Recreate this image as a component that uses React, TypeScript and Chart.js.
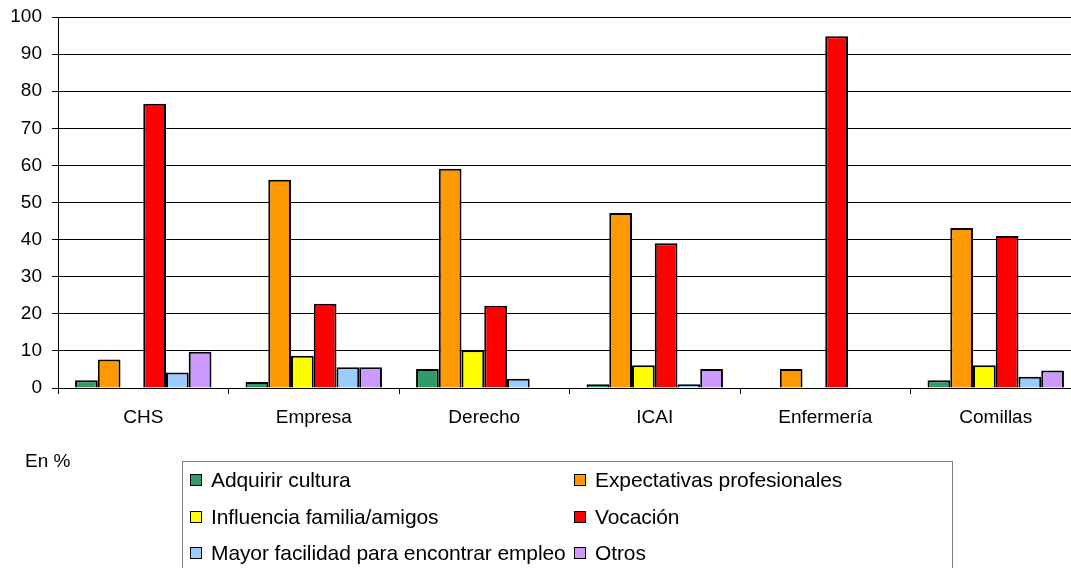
import React, { useEffect, useRef } from "react";
import { Chart, registerables } from "chart.js";

Chart.register(...registerables);

const categories = ["CHS", "Empresa", "Derecho", "ICAI", "Enfermería", "Comillas"];
const seriesNames = [
  "Adquirir cultura",
  "Expectativas profesionales",
  "Influencia familia/amigos",
  "Vocación",
  "Mayor facilidad para encontrar empleo",
  "Otros",
];
const adquirirCultura = [2.1, 1.6, 5.1, 1.0, 0, 2.1];
const expectativas = [7.7, 56.1, 59.1, 47.2, 5.1, 43.1];
const influencia = [0, 8.7, 10.2, 6.1, 0, 6.1];
const vocacion = [76.6, 22.7, 22.2, 39.0, 94.8, 41.0];
const facilidadEmpleo = [4.2, 5.6, 2.5, 1.0, 0, 3.0];
const otros = [9.8, 5.6, 0, 5.1, 0, 4.7];
const seriesValues = [adquirirCultura, expectativas, influencia, vocacion, facilidadEmpleo, otros];
const seriesColors = ["#339966", "#FF9900", "#FFFF00", "#FF0000", "#99CCFF", "#CC99FF"];
const yTicks = [0, 10, 20, 30, 40, 50, 60, 70, 80, 90, 100];

const FONT = "'Liberation Sans', Arial, sans-serif";

export default function App() {
  const canvasRef = useRef<HTMLCanvasElement | null>(null);

  useEffect(() => {
    document.documentElement.style.overflow = "hidden";
    document.body.style.overflow = "hidden";
    const ctx = canvasRef.current!.getContext("2d")!;
    const chart = new Chart(ctx, {
      type: "bar",
      data: {
        labels: categories,
        datasets: seriesNames.map((name, i) => ({
          label: name,
          data: seriesValues[i],
          backgroundColor: seriesColors[i],
          borderColor: "#000000",
          borderWidth: 2,
          borderSkipped: "start" as const,
          categoryPercentage: 0.8,
          barPercentage: 1.0,
        })),
      },
      options: {
        animation: false,
        responsive: false,
        maintainAspectRatio: false,
        layout: { padding: { top: 17, left: 0, right: 9, bottom: 0 } },
        plugins: {
          legend: { display: false },
          tooltip: { enabled: false },
        },
        scales: {
          x: {
            grid: {
              display: true,
              drawOnChartArea: false,
              drawTicks: true,
              tickLength: 6,
              color: "#000000",
              offset: true,
            },
            border: { display: true, color: "#000000", width: 1 },
            ticks: {
              color: "#000000",
              font: { family: FONT, size: 19 },
              padding: 12,
              maxRotation: 0,
              autoSkip: false,
            },
            afterFit: (scale: any) => {
              scale.height = 180;
              scale.paddingLeft = 0;
              scale.paddingRight = 0;
            },
          },
          y: {
            min: 0,
            max: 100,
            afterBuildTicks: (scale: any) => {
              scale.ticks = yTicks.map((v) => ({ value: v }));
            },
            grid: {
              color: "#000000",
              lineWidth: 1,
              tickLength: 6,
              tickColor: "#000000",
            },
            border: { display: true, color: "#000000", width: 1 },
            ticks: {
              color: "#000000",
              font: { family: FONT, size: 19 },
              padding: 10,
            },
            afterFit: (scale: any) => {
              scale.width = 58;
              scale.paddingTop = 0;
              scale.paddingBottom = 0;
            },
          },
        },
      },
    });
    return () => chart.destroy();
  }, []);

  const rows = [
    [0, 1],
    [2, 3],
    [4, 5],
  ];

  return (
    <div
      style={{
        position: "fixed",
        left: 0,
        top: 0,
        width: 1090,
        height: 568,
        background: "#ffffff",
        overflow: "hidden",
        fontFamily: FONT,
      }}
    >
      <canvas ref={canvasRef} width={1090} height={568} style={{ position: "absolute", left: 0, top: 0 }} />
      <div
        style={{
          position: "absolute",
          left: 25,
          top: 449,
          fontSize: 19,
          color: "#000",
          lineHeight: "24px",
        }}
      >
        En %
      </div>
      <div
        style={{
          position: "absolute",
          left: 182,
          top: 461,
          width: 771,
          height: 130,
          border: "1px solid #808080",
          boxSizing: "border-box",
        }}
      >
        {rows.map((pair, r) =>
          pair.map((si, c) => (
            <div
              key={si}
              style={{
                position: "absolute",
                left: c === 0 ? 7 : 391,
                top: 5 + r * 36.5,
                height: 26,
                display: "flex",
                alignItems: "center",
                whiteSpace: "nowrap",
                fontSize: 21,
                letterSpacing: -0.1,
                color: "#000",
              }}
            >
              <span
                style={{
                  display: "inline-block",
                  width: 10,
                  height: 10,
                  background: seriesColors[si],
                  border: "1px solid #000",
                  marginRight: 9,
                }}
              />
              <span>{seriesNames[si]}</span>
            </div>
          ))
        )}
      </div>
    </div>
  );
}
